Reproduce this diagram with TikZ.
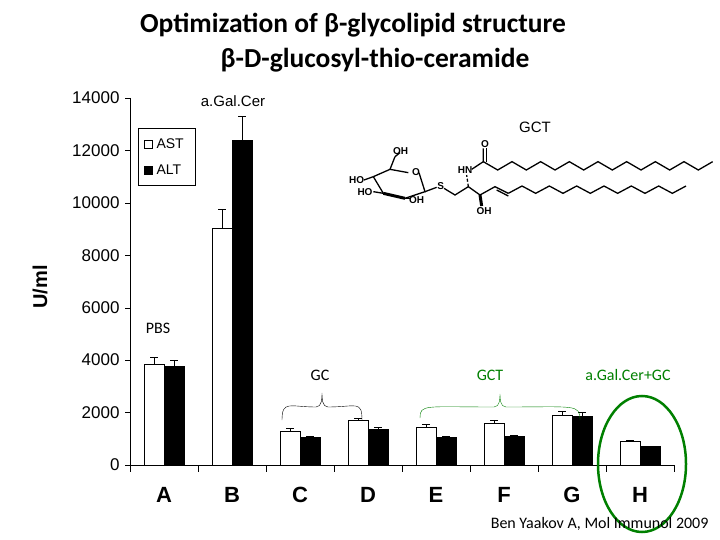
\documentclass[tikz,border=0pt]{standalone}
\usepackage{fontspec}
\setmainfont{Carlito}
\newfontfamily\arial{Liberation Sans}
\begin{document}
\begin{tikzpicture}[x=1pt,y=-1pt,
  lbl/.style={font=\arial\fontsize{17}{17}\selectfont},
  cat/.style={font=\arial\bfseries\fontsize{22}{22}\selectfont},
  ann/.style={font=\fontsize{16}{16}\selectfont},
  chem/.style={font=\arial\bfseries\fontsize{10}{10}\selectfont,inner sep=0.5pt},
  grn/.style={draw=green!50!black}]
\useasboundingbox (0,0) rectangle (720,540);
\fill[white] (0,0) rectangle (720,540);
% title
\node[font=\bfseries\fontsize{27.5}{28}\selectfont] (t1) at (353,25) {Optimization of β-glycolipid structure};
\node[font=\bfseries\fontsize{27.5}{28}\selectfont] (t2) at (375,60) {β-D-glucosyl-thio-ceramide};
% axes
\draw[line width=1pt] (130,98) -- (130,465) -- (675,465);
\foreach \v in {0,2000,...,14000}{
  \draw (125,{465-\v*0.02621}) -- (130,{465-\v*0.02621});
  \node[lbl,anchor=east] at (123,{465-\v*0.02621}) {\v};}
\foreach \i in {0,...,8}{ \draw (130+\i*68,465) -- (130+\i*68,472); }
\node[font=\arial\bfseries\fontsize{20}{20}\selectfont,rotate=90] (yl) at (40,287) {U/ml};
\foreach \l [count=\i from 0] in {A,B,C,D,E,F,G,H}{
  \node[cat] at (164+\i*68,495) {\l};}
% bars
\newcommand\mybars[5]{%
  \draw[fill=white] (#1-20,465) rectangle (#1,{465-#2*0.02621});
  \draw (#1-10,{465-#2*0.02621}) -- (#1-10,{465-(#2+#3)*0.02621}) (#1-14,{465-(#2+#3)*0.02621}) -- (#1-6,{465-(#2+#3)*0.02621});
  \draw[fill=black] (#1,465) rectangle (#1+20,{465-#4*0.02621});
  \draw (#1+10,{465-#4*0.02621}) -- (#1+10,{465-(#4+#5)*0.02621}) (#1+6,{465-(#4+#5)*0.02621}) -- (#1+14,{465-(#4+#5)*0.02621});}
\mybars{164}{3850}{250}{3750}{250}
\mybars{232}{9050}{700}{12400}{900}
\mybars{300}{1300}{100}{1050}{40}
\mybars{368}{1700}{100}{1350}{100}
\mybars{436}{1450}{100}{1050}{40}
\mybars{504}{1600}{100}{1100}{40}
\mybars{572}{1900}{150}{1850}{150}
\mybars{640}{900}{50}{700}{0}
% legend
\draw (138,128) rectangle (195,185);
\draw[fill=white] (144,140) rectangle (152,148);
\node[anchor=west,font=\arial\fontsize{14}{14}\selectfont] at (153,144) {AST};
\draw[fill=black] (144,166) rectangle (152,174);
\node[anchor=west,font=\arial\fontsize{14}{14}\selectfont] at (153,170) {ALT};
% annotations
\node[font=\arial\fontsize{15}{15}\selectfont] (ag) at (233,101) {a.Gal.Cer};
\node[font=\arial\fontsize{15}{15}\selectfont] (gct) at (535,127) {GCT};
\node[ann] (pbs) at (158,328) {PBS};
\node[ann] (gc) at (320,375) {GC};
\node[ann,text=green!50!black] (gct2) at (490,375) {GCT};
\node[ann,text=green!50!black] (agc) at (628,375) {a.Gal.Cer+GC};
\draw (282,420) .. controls (282,400) and (290,407) .. (316,407) .. controls (322,407) and (322,398) .. (322,393)
      .. controls (322,398) and (322,407) .. (328,407) .. controls (356,407) and (362,400) .. (362,420);
\draw[grn] (420,418) .. controls (420,404) and (425,407) .. (494,407) .. controls (500,407) and (500,398) .. (500,394)
      .. controls (500,398) and (500,407) .. (506,407) .. controls (575,407) and (580,404) .. (580,420);
\draw[grn,line width=2.5pt] (642,464) ellipse (44 and 68);
\node[font=\fontsize{16}{16}\selectfont,anchor=east] (cit) at (712,524) {Ben Yaakov A, Mol Immunol 2009};
% structure
\begin{scope}[shift={(340,130)},scale=1/3,line width=1.3pt]
\draw (100,140) -- (150,118) -- (165,80);
\draw (150,118) -- (205,128);
\draw (237,128) -- (255,185) -- (195,205) -- (130,190) -- (100,140);
\draw[line width=3pt] (130,190) -- (195,205);
\draw (100,140) -- (72,150);
\draw (130,190) -- (100,185);
\draw (195,205) -- (210,205);
\draw (165,80) -- (180,68);
\node[chem] at (228,125) {O};
\node[chem] at (50,150) {HO};
\node[chem] at (75,185) {HO};
\node[chem] at (230,210) {OH};
\node[chem] at (182,62) {OH};
\draw (255,185) -- (290,172);
\node[chem] at (302,168) {S};
\draw (312,175) -- (345,195) -- (385,170) -- (420,195) -- (465,170) -- (505,190);
\draw (470,180) -- (505,198);
\draw[densely dashed] (385,170) -- (380,135);
\node[chem] at (375,120) {HN};
\draw (395,118) -- (430,95) -- (430,55);
\draw (440,95) -- (440,55);
\node[chem] at (435,42) {O};
\draw[line width=3pt] (420,195) -- (425,228);
\node[chem] at (432,242) {OH};
\draw (430,95) \foreach \k in {1,...,16}{ -- ({430+\k*43},{mod(\k,2)==1 ? 120 : 95}) };
\draw (505,190) \foreach \k in {1,...,13}{ -- ({505+\k*41},{mod(\k,2)==1 ? 168 : 190}) };
\end{scope}
\end{tikzpicture}
\end{document}
